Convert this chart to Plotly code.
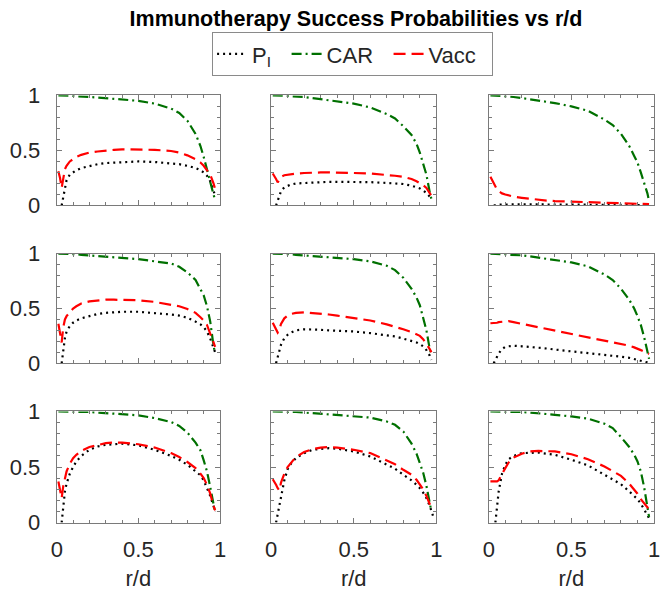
import plotly.graph_objects as go

# r/d sample grid (shared by all curves)
R = [0.01, 0.02, 0.03, 0.04, 0.05, 0.06, 0.08, 0.10, 0.12, 0.15, 0.20, 0.25, 0.30, 0.35,
     0.40, 0.50, 0.60, 0.70, 0.75, 0.80, 0.85, 0.88, 0.90, 0.92, 0.94, 0.96, 0.97, 0.98]

N = None
# ---- row 1 ----
PI_11 = [N, N, 0.0, 0.09, 0.17, 0.23, 0.28, 0.30, 0.32, 0.34, 0.36, 0.375, 0.385, 0.39,
         0.395, 0.40, 0.395, 0.385, 0.375, 0.36, 0.34, 0.32, 0.30, 0.27, 0.22, 0.14, 0.08, N]
CAR_11 = [1.0, 1.0, 1.0, 1.0, 1.0, 1.0, 0.995, 0.995, 0.99, 0.99, 0.985, 0.98, 0.975, 0.97,
          0.965, 0.95, 0.925, 0.88, 0.84, 0.77, 0.65, 0.54, 0.44, 0.32, 0.21, 0.10, 0.05, N]
VACC_11 = [0.31, 0.25, 0.16, 0.27, 0.33, 0.36, 0.40, 0.42, 0.44, 0.46, 0.48, 0.49, 0.50, 0.505,
           0.51, 0.51, 0.505, 0.495, 0.48, 0.455, 0.42, 0.39, 0.36, 0.32, 0.28, 0.20, 0.15, N]

PI_12 = [N, N, 0.0, 0.05, 0.09, 0.13, 0.165, 0.18, 0.19, 0.20, 0.205, 0.21, 0.212, 0.215,
         0.215, 0.215, 0.212, 0.205, 0.20, 0.195, 0.18, 0.165, 0.155, 0.135, 0.115, 0.08, 0.06, N]
CAR_12 = [1.0, 1.0, 1.0, 1.0, 1.0, 1.0, 0.995, 0.995, 0.99, 0.99, 0.985, 0.975, 0.965, 0.955,
          0.945, 0.925, 0.89, 0.83, 0.79, 0.72, 0.64, 0.56, 0.48, 0.39, 0.28, 0.12, 0.06, N]
VACC_12 = [0.29, 0.27, 0.24, 0.21, 0.24, 0.26, 0.275, 0.28, 0.285, 0.29, 0.295, 0.30, 0.30, 0.30,
           0.30, 0.295, 0.29, 0.28, 0.27, 0.26, 0.24, 0.22, 0.205, 0.185, 0.16, 0.12, 0.09, N]

PI_13 = [N, N, 0.0, 0.004, 0.006, 0.008, 0.009, 0.01, 0.01, 0.01, 0.01, 0.01, 0.01, 0.009,
         0.009, 0.008, 0.008, 0.007, 0.007, 0.006, 0.006, 0.005, 0.005, 0.005, 0.004, 0.004, 0.003, N]
CAR_13 = [1.0, 1.0, 1.0, 1.0, 1.0, 0.995, 0.995, 0.99, 0.99, 0.985, 0.975, 0.965, 0.955, 0.945,
          0.93, 0.90, 0.86, 0.78, 0.73, 0.65, 0.54, 0.45, 0.39, 0.30, 0.21, 0.11, 0.04, N]
VACC_13 = [0.26, 0.23, 0.20, 0.17, 0.145, 0.13, 0.11, 0.10, 0.09, 0.08, 0.07, 0.06, 0.05, 0.045,
           0.04, 0.035, 0.03, 0.025, 0.022, 0.02, 0.018, 0.016, 0.015, 0.014, 0.013, 0.012, 0.012, N]

# ---- row 2 ----
PI_21 = [N, N, 0.0, 0.13, 0.23, 0.29, 0.34, 0.37, 0.39, 0.41, 0.43, 0.45, 0.46, 0.465,
         0.47, 0.47, 0.46, 0.445, 0.435, 0.415, 0.38, 0.355, 0.33, 0.29, 0.225, 0.15, 0.10, N]
CAR_21 = [1.0, 1.0, 1.0, 1.0, 1.0, 1.0, 0.995, 0.995, 0.995, 0.99, 0.985, 0.98, 0.975, 0.97,
          0.965, 0.95, 0.93, 0.91, 0.88, 0.83, 0.76, 0.68, 0.62, 0.52, 0.38, 0.16, 0.09, N]
VACC_21 = [0.36, 0.27, 0.19, 0.33, 0.40, 0.43, 0.47, 0.50, 0.52, 0.545, 0.565, 0.575, 0.58, 0.58,
           0.58, 0.575, 0.56, 0.535, 0.52, 0.495, 0.46, 0.42, 0.39, 0.35, 0.27, 0.19, 0.15, N]

PI_22 = [N, N, 0.0, 0.06, 0.12, 0.17, 0.23, 0.26, 0.28, 0.30, 0.31, 0.31, 0.305, 0.30,
         0.298, 0.29, 0.275, 0.255, 0.245, 0.225, 0.205, 0.19, 0.175, 0.155, 0.12, 0.07, 0.03, N]
CAR_22 = [1.0, 1.0, 1.0, 1.0, 1.0, 1.0, 0.995, 0.995, 0.995, 0.99, 0.985, 0.98, 0.975, 0.97,
          0.965, 0.95, 0.93, 0.89, 0.85, 0.78, 0.68, 0.60, 0.53, 0.42, 0.30, 0.13, 0.08, N]
VACC_22 = [0.37, 0.34, 0.31, 0.28, 0.30, 0.36, 0.41, 0.435, 0.45, 0.46, 0.465, 0.46, 0.455, 0.445,
           0.435, 0.415, 0.39, 0.355, 0.335, 0.31, 0.285, 0.265, 0.25, 0.22, 0.18, 0.13, 0.10, N]

PI_23 = [N, N, 0.0, 0.03, 0.06, 0.09, 0.13, 0.15, 0.155, 0.16, 0.155, 0.15, 0.14, 0.135,
         0.125, 0.11, 0.095, 0.08, 0.07, 0.06, 0.05, 0.04, 0.035, 0.025, 0.015, 0.008, 0.004, N]
CAR_23 = [1.0, 1.0, 1.0, 1.0, 1.0, 1.0, 0.995, 0.995, 0.99, 0.99, 0.985, 0.975, 0.965, 0.955,
          0.945, 0.92, 0.885, 0.81, 0.76, 0.68, 0.58, 0.50, 0.43, 0.35, 0.24, 0.11, 0.04, N]
VACC_23 = [0.365, 0.365, 0.365, 0.367, 0.37, 0.375, 0.38, 0.385, 0.385, 0.375, 0.36, 0.345, 0.33, 0.315,
           0.30, 0.27, 0.24, 0.21, 0.195, 0.18, 0.16, 0.145, 0.135, 0.12, 0.105, 0.095, 0.085, N]

# ---- row 3 ----
PI_31 = [N, N, 0.0, 0.17, 0.28, 0.35, 0.44, 0.50, 0.55, 0.60, 0.655, 0.685, 0.70, 0.705,
         0.71, 0.695, 0.655, 0.60, 0.565, 0.52, 0.465, 0.425, 0.38, 0.315, 0.24, 0.15, 0.10, N]
CAR_31 = [1.0, 1.0, 1.0, 1.0, 1.0, 1.0, 1.0, 1.0, 1.0, 1.0, 0.995, 0.99, 0.985, 0.98,
          0.975, 0.965, 0.94, 0.905, 0.87, 0.81, 0.72, 0.65, 0.56, 0.46, 0.32, 0.14, 0.09, N]
VACC_31 = [0.37, 0.30, 0.22, 0.33, 0.41, 0.46, 0.53, 0.58, 0.61, 0.645, 0.68, 0.70, 0.715, 0.72,
           0.72, 0.705, 0.675, 0.625, 0.59, 0.545, 0.49, 0.44, 0.40, 0.34, 0.26, 0.15, 0.11, N]

PI_32 = [N, N, 0.0, 0.07, 0.14, 0.21, 0.38, 0.48, 0.53, 0.58, 0.625, 0.655, 0.665, 0.67,
         0.665, 0.64, 0.595, 0.52, 0.485, 0.43, 0.38, 0.34, 0.31, 0.27, 0.22, 0.15, 0.11, 0.06]
CAR_32 = [1.0, 1.0, 1.0, 1.0, 1.0, 1.0, 1.0, 0.995, 0.995, 0.995, 0.99, 0.985, 0.98, 0.975,
          0.97, 0.96, 0.945, 0.91, 0.88, 0.82, 0.71, 0.62, 0.54, 0.45, 0.33, 0.16, 0.10, N]
VACC_32 = [0.39, 0.37, 0.34, 0.31, 0.29, 0.36, 0.44, 0.50, 0.54, 0.59, 0.635, 0.66, 0.675, 0.68,
           0.675, 0.655, 0.625, 0.56, 0.525, 0.475, 0.43, 0.385, 0.34, 0.30, 0.24, 0.17, 0.13, N]

PI_33 = [N, N, N, 0.0, 0.17, 0.28, 0.44, 0.52, 0.57, 0.60, 0.625, 0.63, 0.63, 0.62,
         0.61, 0.565, 0.515, 0.43, 0.39, 0.345, 0.28, 0.235, 0.21, 0.17, 0.12, 0.07, 0.04, N]
CAR_33 = [1.0, 1.0, 1.0, 1.0, 1.0, 1.0, 1.0, 1.0, 1.0, 1.0, 0.995, 0.99, 0.985, 0.98,
          0.97, 0.955, 0.935, 0.89, 0.85, 0.77, 0.68, 0.61, 0.55, 0.46, 0.32, 0.14, 0.05, N]
VACC_33 = [0.37, 0.37, 0.37, 0.37, 0.37, 0.38, 0.44, 0.49, 0.54, 0.585, 0.62, 0.64, 0.645, 0.645,
           0.64, 0.615, 0.57, 0.505, 0.465, 0.42, 0.35, 0.30, 0.26, 0.21, 0.17, 0.14, 0.12, N]

PANELS = [
    [(PI_11, CAR_11, VACC_11), (PI_12, CAR_12, VACC_12), (PI_13, CAR_13, VACC_13)],
    [(PI_21, CAR_21, VACC_21), (PI_22, CAR_22, VACC_22), (PI_23, CAR_23, VACC_23)],
    [(PI_31, CAR_31, VACC_31), (PI_32, CAR_32, VACC_32), (PI_33, CAR_33, VACC_33)],
]

SERIES_NAMES = ["P<sub>I</sub>", "CAR", "Vacc"]
SERIES_COLORS = ["#000000", "#007000", "#ff0000"]
SERIES_DASH = ["2px,4px", "10px,4px,2px,4px", "12px,6px"]
LEGEND_PAD = "\u00a0\u2009"

X_TICKS = [0, 0.5, 1]
X_TICK_TEXT = ["0", "0.5", "1"]
Y_TICKS = [0, 0.5, 1]
Y_TICK_TEXT = ["0", "0.5", "1"]

W, H = 661, 594
COL_PX = [(51.7, 218.0), (270.0, 438.3), (491.7, 660.0)]
ROW_PX = [(87.0, 202.0), (252.3, 366.7), (417.0, 533.0)]

FONT = "Liberation Sans, Arial, Helvetica, sans-serif"
AXIS_GRAY = "#7a7a7a"
TXT = "#262626"

fig = go.Figure()
layout = {}
k = 0
for r in range(3):
    for c in range(3):
        k += 1
        xa = "xaxis" if k == 1 else f"xaxis{k}"
        ya = "yaxis" if k == 1 else f"yaxis{k}"
        xref = "x" if k == 1 else f"x{k}"
        yref = "y" if k == 1 else f"y{k}"
        for s in range(3):
            fig.add_trace(go.Scatter(
                x=R, y=PANELS[r][c][s], mode="lines", name=SERIES_NAMES[s] + LEGEND_PAD,
                line=dict(color=SERIES_COLORS[s], width=2.2, dash=SERIES_DASH[s]),
                showlegend=(k == 1), legendgroup=str(s),
                xaxis=xref, yaxis=yref, connectgaps=False, cliponaxis=False,
            ))
        x0, x1 = COL_PX[c]
        y0, y1 = ROW_PX[r]
        layout[xa] = dict(
            domain=[x0 / W, x1 / W], range=[0, 1], anchor=yref,
            tickvals=X_TICKS, ticktext=X_TICK_TEXT, showticklabels=(r == 2),
            ticks="inside", ticklen=5, tickcolor=AXIS_GRAY, tickwidth=1,
            minor=dict(dtick=0.1, ticks="inside", ticklen=3, tickcolor=AXIS_GRAY),
            showline=True, linecolor=AXIS_GRAY, linewidth=1, mirror="allticks",
            showgrid=False, zeroline=False, ticklabelstandoff=7,
            tickfont=dict(size=22, color=TXT, family=FONT),
            title=dict(text="r/d" if r == 2 else "", font=dict(size=22, color=TXT, family=FONT),
                       standoff=9),
        )
        layout[ya] = dict(
            domain=[1 - y1 / H, 1 - y0 / H], range=[0, 1], anchor=xref,
            tickvals=Y_TICKS, ticktext=Y_TICK_TEXT, showticklabels=(c == 0),
            ticks="inside", ticklen=5, tickcolor=AXIS_GRAY, tickwidth=1,
            minor=dict(dtick=0.1, ticks="inside", ticklen=3, tickcolor=AXIS_GRAY),
            showline=True, linecolor=AXIS_GRAY, linewidth=1, mirror="allticks",
            showgrid=False, zeroline=False, ticklabelstandoff=11,
            tickfont=dict(size=22, color=TXT, family=FONT),
        )

fig.update_layout(**layout)
fig.update_layout(
    width=W, height=H,
    margin=dict(l=0, r=0, t=0, b=0),
    paper_bgcolor="white", plot_bgcolor="white",
    font=dict(family=FONT, color=TXT),
    title=dict(text="<b>Immunotherapy Success Probabilities vs r/d</b>",
               x=356 / W, xanchor="center", y=1 - 18 / H, yanchor="middle",
               font=dict(size=21.5, color="#000000", family=FONT)),
    legend=dict(orientation="h", x=353 / W, xanchor="center", y=1 - 21 / H, yanchor="top",
                bordercolor="#8a8a8a", borderwidth=1, bgcolor="white",
                font=dict(size=22, color=TXT, family=FONT),
                itemwidth=30, tracegroupgap=0),
    showlegend=True,
)

fig.write_html("out.html")
